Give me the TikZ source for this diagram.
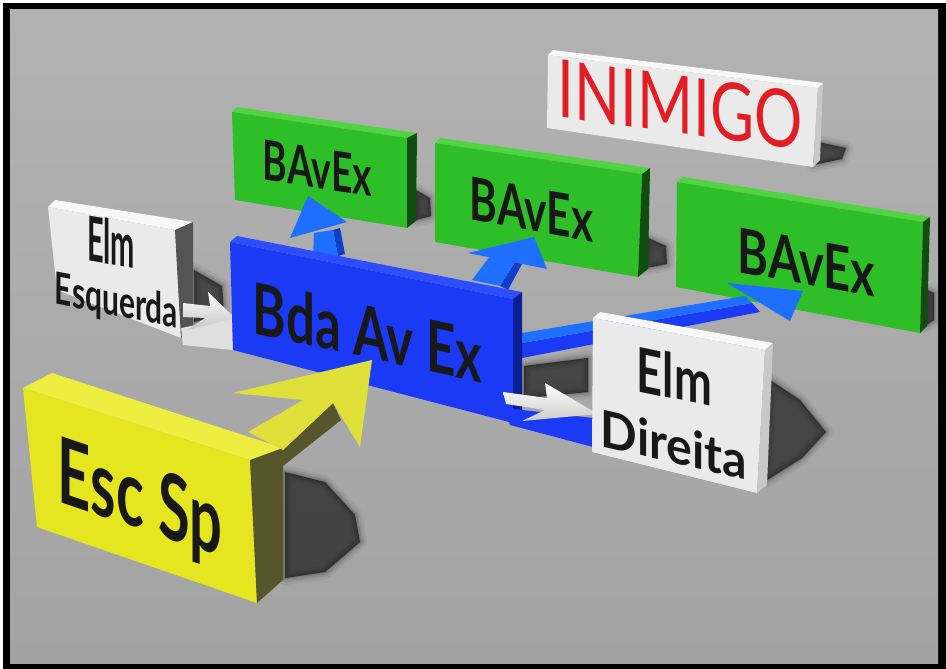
\documentclass[tikz,border=0pt]{standalone}
\usepackage{fontspec}
\usepackage{graphicx}
\newfontfamily\lbl{Lato}
\definecolor{floorT}{RGB}{178,178,178}
\definecolor{floorB}{RGB}{163,163,163}
\definecolor{gTop}{RGB}{80,212,66}
\definecolor{gFront}{RGB}{46,190,40}
\definecolor{gSide}{RGB}{16,78,16}
\definecolor{bTop}{RGB}{44,78,255}
\definecolor{bFront}{RGB}{26,58,246}
\definecolor{bSide}{RGB}{12,30,150}
\definecolor{aBlue}{RGB}{30,110,255}
\definecolor{aBlueD}{RGB}{16,62,200}
\definecolor{wTop}{RGB}{248,248,248}
\definecolor{wFront}{RGB}{234,234,234}
\definecolor{wSideL}{RGB}{200,200,200}
\definecolor{wSideD}{RGB}{84,84,84}
\definecolor{yTop}{RGB}{238,238,64}
\definecolor{yFront}{RGB}{230,230,32}
\definecolor{ySide}{RGB}{86,86,42}
\definecolor{yArrow}{RGB}{224,224,58}
\definecolor{redTxt}{RGB}{226,30,36}
\definecolor{txtBlack}{RGB}{24,24,24}
\newcommand\softshadow[1]{%
  \foreach \w/\o in {14/0.05,9/0.07,5/0.09,2/0.1}{\filldraw[black,opacity=\o,line width=\w pt,line join=round] #1;}%
  \fill[black,opacity=0.42] #1;}
\newcommand\sltext[7]{%
  \begin{scope}[shift={(#2,#3)},yslant=#4]
    \node[txt] (#1) at (0,0) {\resizebox{#5pt}{#6pt}{#7}};
  \end{scope}}
\tikzset{
  txt/.style={anchor=base,inner sep=0pt,outer sep=0pt,transform shape,text=txtBlack},
}
\begin{document}
\begin{tikzpicture}[x=1pt,y=-1pt]
\useasboundingbox (0,0) rectangle (946,669);
\fill[white] (0,0) rectangle (946,669);
\fill[black] (3,3) rectangle (946,669);
\shade[top color=floorT,bottom color=floorB] (10,10) rectangle (938,663);

% ---- shadows on the floor
\softshadow{(818,142)--(846,148)--(842,159)--(813,165)--cycle}
\softshadow{(416,190)--(430,198)--(431,216)--(416,220)--cycle}
\softshadow{(648,238)--(666,246)--(667,264)--(646,268)--cycle}
\softshadow{(927,290)--(934,293)--(934,320)--(925,326)--cycle}
\softshadow{(194,270)--(222,286)--(224,314)--(194,322)--cycle}
\softshadow{(524,366)--(588,358)--(588,392)--(524,398)--cycle}
\softshadow{(770,380)--(800,400)--(826,432)--(802,458)--(764,482)--cycle}
\softshadow{(285,472)--(325,482)--(355,515)--(360,542)--(325,572)--(285,578)--cycle}

% ---- INIMIGO
\fill[wTop] (548,55)--(553,50)--(823,83)--(818,88)--cycle;
\fill[wFront] (548,55)--(818,88)--(813,167)--(547,128)--cycle;
\fill[wSideL] (818,88)--(823,83)--(820,160)--(813,167)--cycle;
\sltext{tInimigo}{680.5}{133.5}{-0.135}{245}{58}{\lbl\color{redTxt}INIMIGO}

% ---- BAvEx 3
\fill[gTop] (677,182)--(683,177)--(930,217)--(923,222)--cycle;
\fill[gFront] (677,182)--(923,222)--(920,333)--(676,287)--cycle;
\fill[gSide] (923,222)--(930,217)--(927,326)--(920,333)--cycle;
\sltext{tB3}{806.5}{284.5}{-0.182}{137}{45}{\lbl\bfseries BAvEx}

% ---- BAvEx 2
\fill[gTop] (435,143)--(440,138)--(650,168)--(642,174)--cycle;
\fill[gFront] (435,143)--(642,174)--(638,277)--(435,242)--cycle;
\fill[gSide] (642,174)--(650,168)--(648,269)--(638,277)--cycle;
\sltext{tB2}{531.5}{231}{-0.179}{123}{43}{\lbl\bfseries BAvEx}

% ---- BAvEx 1
\fill[gTop] (232,112)--(237,107)--(417,133)--(407,138)--cycle;
\fill[gFront] (232,112)--(407,138)--(407,228)--(235,200)--cycle;
\fill[gSide] (407,138)--(417,133)--(416,221)--(407,228)--cycle;
\sltext{tB1}{317.5}{188.5}{-0.156}{109}{40}{\lbl\bfseries BAvEx}

% ---- blue arrows from Bda
\fill[aBlueD] (338,256)--(333,230)--(340,228)--(345,254)--cycle;
\fill[aBlue] (313,258)--(314,233)--(333,230)--(338,256)--cycle;
\fill[aBlue] (290,238)--(308,196)--(347,222)--cycle;
\fill[aBlueD] (500,286)--(515,262)--(522,264)--(508,290)--cycle;
\fill[aBlue] (472,280)--(490,256)--(515,262)--(500,286)--cycle;
\fill[aBlue] (468,253)--(534,237)--(547,269)--cycle;
\fill[bFront] (522,343)--(752,303)--(760,312)--(522,358)--cycle;
\fill[aBlue] (522,333)--(745,296)--(752,303)--(522,343)--cycle;
\fill[aBlue] (727,283)--(803,291)--(790,321)--cycle;

% ---- Elm Esquerda
\fill[wTop] (48,207)--(55,200)--(193,222)--(175,230)--cycle;
\fill[wFront] (48,207)--(175,230)--(181,338)--(57,290)--cycle;
\fill[wSideD] (175,230)--(193,222)--(193,328)--(181,338)--cycle;
\sltext{tElmE}{111}{265}{-0.17}{48}{46}{\lbl\bfseries Elm}
\sltext{tEsq}{116.5}{316}{-0.2}{123}{33}{\lbl\bfseries Esquerda}
\fill[gray!25] (181,328)--(232,318)--(233,350)--(183,345)--cycle;
\shade[top color=white,bottom color=gray!45] (183,303)--(210,306)--(208,292)--(235,318)--(187,330)--(205,318)--(183,317)--cycle;

% ---- Bda Av Ex
\fill[bTop] (230,242)--(237,236)--(522,292)--(513,299)--cycle;
\fill[bFront] (230,242)--(513,299)--(513,423)--(233,350)--cycle;
\fill[bSide] (513,299)--(522,292)--(522,416)--(513,423)--cycle;
\sltext{tBda}{367.5}{358}{-0.218}{229}{53}{\lbl\bfseries Bda Av Ex}

% ---- blue slab and white arrow to Direita
\fill[bFront] (505,408)--(593,418)--(593,447)--(510,425)--cycle;
\shade[top color=white,bottom color=gray!40] (503,392)--(547,398)--(545,383)--(598,414)--(522,421)--(545,410)--(506,404)--cycle;

% ---- Elm Direita
\fill[wTop] (593,318)--(600,312)--(773,343)--(765,350)--cycle;
\fill[wFront] (593,318)--(765,350)--(757,493)--(592,452)--cycle;
\fill[wSideL] (765,350)--(773,343)--(767,485)--(757,493)--cycle;
\sltext{tElmD}{674.5}{399}{-0.21}{75}{46}{\lbl\bfseries Elm}
\sltext{tDir}{674}{463}{-0.23}{146}{38}{\lbl\bfseries Direita}

% ---- Esc Sp
\fill[yTop] (23,388)--(52,373)--(283,448)--(250,460)--cycle;
\fill[yFront] (23,388)--(250,460)--(257,603)--(37,527)--cycle;
\fill[ySide] (250,460)--(283,448)--(283,580)--(257,603)--cycle;
\fill[ySide] (333,403)--(341,420)--(283,466)--(283,450)--cycle;
\fill[yArrow] (233,393)--(372,360)--(360,447)--(333,403)--(283,450)--(248,432)--(303,400)--cycle;
\sltext{tEsc}{140}{529}{-0.34}{164}{67}{\lbl\bfseries Esc Sp}
\end{tikzpicture}
\end{document}
